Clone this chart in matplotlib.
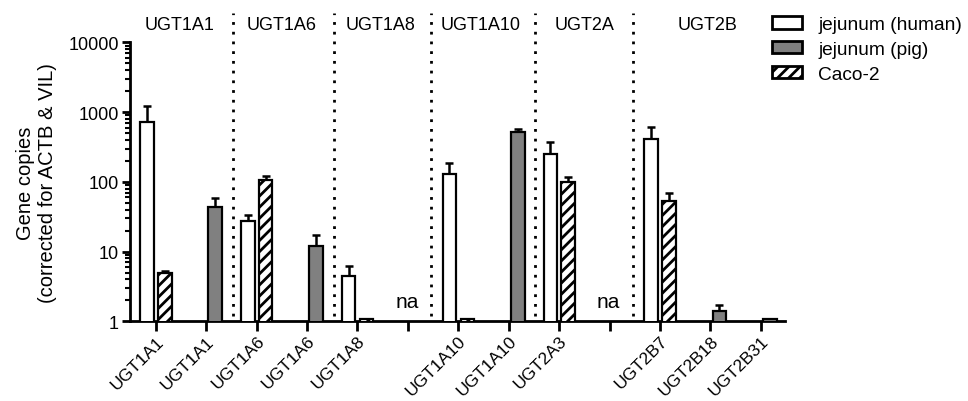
import matplotlib
matplotlib.use("Agg")
import matplotlib.pyplot as plt
from matplotlib.patches import Patch
import numpy as np

plt.rcParams['font.family'] = ['Liberation Sans', 'DejaVu Sans']
plt.rcParams['hatch.linewidth'] = 2.0

# tick labels (13 positions)
tick_labels = ["UGT1A1", "UGT1A1", "UGT1A6", "UGT1A6", "UGT1A8", "",
               "UGT1A10", "UGT1A10", "UGT2A3", "", "UGT2B7", "UGT2B18", "UGT2B31"]

# jejunum (human): position, mean, upper error end
human_pos = [0, 2, 4, 6, 8, 10]
human_val = [716, 27.2, 4.42, 130, 251, 413]
human_err = [1240, 33.5, 6.15, 185, 378, 620]

# jejunum (pig)
pig_pos = [1, 3, 7, 11, 12]
pig_val = [43, 11.9, 515, 1.39, 1.07]
pig_err = [58.8, 17.5, 574, 1.71, 1.09]

# Caco-2
caco_pos = [0, 2, 4, 6, 8, 10]
caco_val = [4.93, 106, 1.07, 1.07, 98.7, 53.8]
caco_err = [5.3, 123, 1.09, 1.09, 119, 68.6]

group_labels = ["UGT1A1", "UGT1A6", "UGT1A8", "UGT1A10", "UGT2A", "UGT2B"]
group_label_x = [0.48, 2.5, 4.45, 6.45, 8.5, 10.95]
separators = [1.54, 3.54, 5.46, 7.53, 9.46]
na_pos = [4.98, 8.97]

fig = plt.figure(figsize=(9.68, 4.02), dpi=100)
ax = fig.add_axes([0.1343, 0.1983, 0.811 - 0.1343, 0.8918 - 0.1983])

w = 0.27
lw = 1.6
left_off = -0.31
right_off = 0.045

def draw(pos, val, err, offset, fc, hatch=None):
    x = np.array(pos) + offset
    val = np.array(val)
    err = np.array(err)
    ax.bar(x, val, width=w, align='edge', bottom=0.0, color=fc,
           edgecolor='black', linewidth=lw, hatch=hatch, zorder=3)
    ax.errorbar(x + w / 2, val, yerr=[np.zeros_like(val), err - val],
                fmt='none', ecolor='black', elinewidth=1.8, capsize=3,
                capthick=1.8, zorder=2)

draw(human_pos, human_val, human_err, left_off, 'white')
draw(pig_pos, pig_val, pig_err, right_off, '#808080')
draw(caco_pos, caco_val, caco_err, right_off, 'white', hatch='///')

ax.set_yscale('log')
ax.set_ylim(1, 10000)
ax.set_xlim(-0.51, 12.48)

ax.set_xticks(range(len(tick_labels)))
ax.set_xticklabels(tick_labels, rotation=45, ha='right', rotation_mode='anchor', fontsize=12.5)
ax.set_yticks([1, 10, 100, 1000, 10000])
ax.set_yticklabels(["1", "10", "100", "1000", "10000"], fontsize=13)

for s in ['top', 'right']:
    ax.spines[s].set_visible(False)
for s in ['left', 'bottom']:
    ax.spines[s].set_linewidth(2)
ax.tick_params(axis='y', which='major', length=6, width=2, direction='out', pad=2)
ax.tick_params(axis='y', which='minor', length=3.5, width=1.5, direction='out')
ax.tick_params(axis='x', which='major', length=7, width=2, direction='out', pad=1.5)

ax.set_ylabel("Gene copies\n(corrected for ACTB & VIL)", fontsize=14.5, labelpad=8, linespacing=1.25)

trans = ax.get_xaxis_transform()
for xs in separators:
    ax.plot([xs, xs], [0.02, 1.105], transform=trans, color='black',
            linestyle=(0, (1, 2.5)), linewidth=2, clip_on=False, zorder=1)

for gx, gl in zip(group_label_x, group_labels):
    ax.text(gx, 1.066, gl, transform=trans, ha='center', va='center', fontsize=13)

for nx in na_pos:
    ax.text(nx, 1.9, "na", ha='center', va='center', fontsize=15)

handles = [Patch(facecolor='white', edgecolor='black', linewidth=2),
           Patch(facecolor='#808080', edgecolor='black', linewidth=2),
           Patch(facecolor='white', edgecolor='black', linewidth=2, hatch='///')]
fig.legend(handles, ["jejunum (human)", "jejunum (pig)", "Caco-2"],
           loc='upper left', bbox_to_anchor=(0.798, 0.957), frameon=False,
           fontsize=13.8, handlelength=1.55, handleheight=0.6,
           handletextpad=0.85, labelspacing=0.4, borderpad=0, borderaxespad=0)

fig.savefig("out.png", dpi=100)
